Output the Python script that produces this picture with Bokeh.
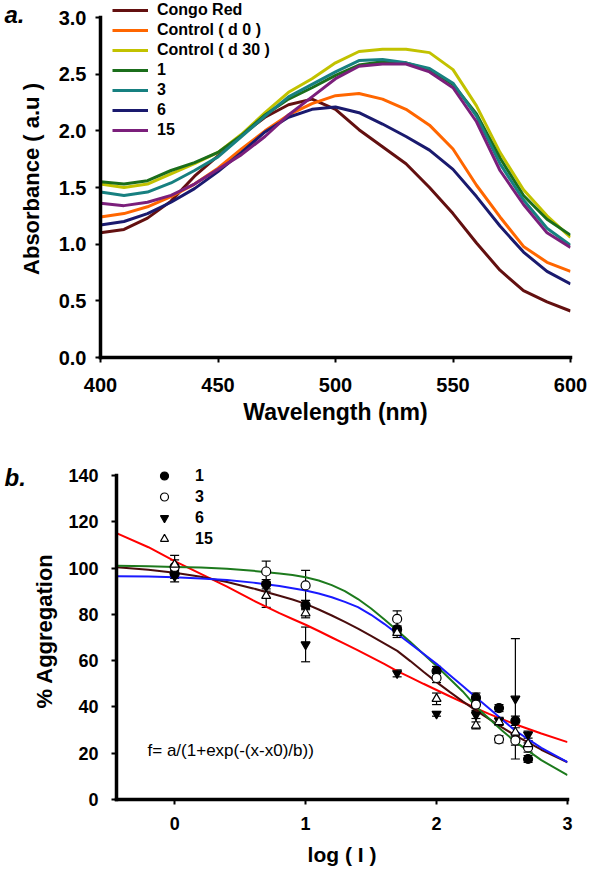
from bokeh.plotting import figure
from bokeh.models import (Range1d, Legend, LegendItem, Label, Whisker, TeeHead,
                          ColumnDataSource, FixedTicker, NumeralTickFormatter)
from bokeh.embed import file_html
from bokeh.resources import INLINE

# ---------------- Panel a: absorbance spectra ----------------
wavelength = [400, 410, 420, 430, 440, 450, 460, 470, 480, 490, 500,
              510, 520, 530, 540, 550, 560, 570, 580, 590, 600]
congo_red = [1.10, 1.13, 1.23, 1.38, 1.60, 1.78, 1.96, 2.12, 2.23, 2.28, 2.19,
             2.01, 1.86, 1.71, 1.50, 1.27, 1.01, 0.77, 0.59, 0.49, 0.41]
control_d0 = [1.24, 1.27, 1.33, 1.42, 1.53, 1.67, 1.84, 2.00, 2.14, 2.24, 2.31,
              2.33, 2.28, 2.19, 2.05, 1.84, 1.52, 1.24, 0.98, 0.84, 0.76]
control_d30 = [1.53, 1.50, 1.53, 1.62, 1.71, 1.81, 1.97, 2.16, 2.34, 2.46, 2.60,
               2.70, 2.72, 2.72, 2.69, 2.54, 2.22, 1.81, 1.48, 1.25, 1.06]
day_1 = [1.55, 1.53, 1.56, 1.65, 1.72, 1.81, 1.96, 2.14, 2.28, 2.38, 2.49,
         2.58, 2.61, 2.60, 2.54, 2.41, 2.15, 1.76, 1.43, 1.22, 1.08]
day_3 = [1.46, 1.43, 1.46, 1.54, 1.65, 1.77, 1.95, 2.13, 2.30, 2.41, 2.52,
         2.62, 2.63, 2.60, 2.55, 2.42, 2.13, 1.71, 1.39, 1.14, 0.99]
day_6 = [1.17, 1.20, 1.27, 1.37, 1.49, 1.64, 1.81, 1.99, 2.12, 2.19, 2.21,
         2.16, 2.06, 1.95, 1.83, 1.66, 1.42, 1.16, 0.93, 0.76, 0.65]
day_15 = [1.36, 1.34, 1.37, 1.43, 1.53, 1.66, 1.79, 1.95, 2.14, 2.30, 2.46,
          2.57, 2.59, 2.59, 2.52, 2.38, 2.08, 1.65, 1.35, 1.10, 0.97]
spectra_names = ["Congo Red", "Control ( d 0 )", "Control ( d 30 )", "1", "3", "6", "15"]
spectra_colors = ["#631010", "#ff6600", "#c2c200", "#1b6e1b", "#178080", "#1a1a6e", "#7b1f7b"]
wl_ticks = [400, 450, 500, 550, 600]
abs_ticks = [0.0, 0.5, 1.0, 1.5, 2.0, 2.5, 3.0]

# ---------------- Panel b: % aggregation ----------------
log_conc = [0, 0.699, 1, 1.699, 2, 2.301, 2.477, 2.602, 2.699]
agg_1 = [97.5, 93.0, 84.0, 73.5, 55.5, 44.0, 39.5, 34.0, 17.5]
err_1 = [2.0, 2.0, 2.0, 1.5, 2.0, 2.0, 1.5, 2.0, 1.5]
agg_3 = [100.5, 98.5, 92.5, 78.0, 52.5, 41.0, 26.0, 25.5, 22.5]
err_3 = [3.0, 4.5, 6.5, 3.5, 2.0, 2.5, 1.5, 2.0, 2.0]
agg_6 = [96.5, 92.0, 67.0, 54.5, 37.0, 36.5, 34.0, 43.5, 28.0]
err_6 = [2.5, 2.0, 7.5, 1.5, 1.0, 1.5, 1.5, 26.0, 1.5]
agg_15 = [101.5, 88.0, 80.5, 72.0, 43.5, 32.0, 33.5, 29.0, 24.0]
err_15 = [4.0, 5.0, 2.0, 2.0, 2.5, 1.5, 1.5, 2.0, 1.5]
agg_names = ["1", "3", "6", "15"]

fit_x = [-0.44, -0.2, 0.0, 0.2, 0.4, 0.6, 0.8, 0.9, 1.0, 1.1, 1.2, 1.3, 1.4,
         1.5, 1.6, 1.7, 1.8, 1.9, 2.0, 2.1, 2.2, 2.3, 2.4, 2.5, 2.6, 2.8, 3.0]
fit_red = [115.0, 109.0, 103.0, 97.5, 92.0, 86.0, 80.5, 78.0, 75.5, 72.8, 70.0, 67.2, 64.4,
           61.5, 58.6, 55.5, 52.8, 50.0, 47.3, 44.6, 42.0, 39.5, 37.0, 34.7, 32.5, 28.5, 24.8]
fit_brown = [100.3, 99.3, 98.0, 96.2, 94.0, 91.2, 88.0, 86.4, 84.5, 82.1, 79.5, 76.7, 73.8,
             70.7, 67.5, 64.2, 59.8, 55.2, 50.7, 46.5, 42.4, 38.5, 34.8, 31.2, 27.7, 21.5, 16.1]
fit_green = [101.0, 100.8, 100.5, 100.2, 99.7, 98.8, 97.6, 97.0, 96.0, 94.6, 92.6, 90.0, 86.6,
             82.5, 77.9, 73.0, 68.0, 62.9, 57.7, 52.2, 46.7, 40.2, 35.0, 29.8, 25.0, 17.0, 10.5]
fit_blue = [96.5, 96.3, 96.0, 95.5, 94.8, 93.7, 92.2, 91.3, 90.3, 89.0, 87.4, 85.4, 83.1,
            79.8, 75.9, 71.6, 67.3, 63.0, 58.6, 53.8, 49.0, 44.2, 39.4, 34.6, 29.8, 22.3, 16.1]
log_ticks = [0, 1, 2, 3]
agg_ticks = [0, 20, 40, 60, 80, 100, 120, 140]
formula_text = "f= a/(1+exp(-(x-x0)/b))"

FONT = "Liberation Sans"


def style_axis(ax, tick_size, label_size):
    ax.axis_line_width = 3.5
    ax.axis_line_color = "black"
    ax.axis_line_cap = "square"
    ax.major_tick_line_width = 2
    ax.major_tick_line_color = "black"
    ax.major_tick_out = 5
    ax.major_tick_in = 0
    ax.minor_tick_line_color = None
    ax.major_label_text_font = FONT
    ax.major_label_text_font_style = "bold"
    ax.major_label_text_font_size = tick_size
    ax.major_label_text_color = "black"
    ax.axis_label_text_font = FONT
    ax.axis_label_text_font_style = "bold"
    ax.axis_label_text_font_size = label_size
    ax.axis_label_text_color = "black"


def style_panel_title(t, text, offset, standoff):
    t.text = text
    t.align = "left"
    t.offset = offset
    t.standoff = standoff
    t.vertical_align = "bottom"
    t.text_font = FONT
    t.text_font_style = "bold italic"
    t.text_font_size = "24px"
    t.text_color = "black"


# ---- Panel a figure ----
pa = figure(width=590, height=432, output_backend="svg", toolbar_location=None,
            x_range=Range1d(400, 600), y_range=Range1d(0, 3.15),
            min_border_left=100, min_border_right=20, min_border_top=0,
            min_border_bottom=75)
pa.outline_line_color = None
pa.grid.visible = False
pa.background_fill_color = "white"
pa.border_fill_color = "white"
style_panel_title(pa.title, "a.", -96, -54)

items_a = []
for name, ys, col in zip(spectra_names,
                         [congo_red, control_d0, control_d30, day_1, day_3, day_6, day_15],
                         spectra_colors):
    r = pa.line(wavelength, ys, line_color=col, line_width=3)
    items_a.append(LegendItem(label=name, renderers=[r]))

leg_a = Legend(items=items_a, location=(12, 217), orientation="vertical")
leg_a.background_fill_alpha = 0
leg_a.border_line_color = None
leg_a.padding = 0
leg_a.margin = 0
leg_a.spacing = 0
leg_a.glyph_width = 36
leg_a.glyph_height = 20
leg_a.label_height = 20
leg_a.label_standoff = 9
leg_a.label_text_font = FONT
leg_a.label_text_font_style = "bold"
leg_a.label_text_font_size = "16px"
leg_a.label_text_color = "black"
pa.add_layout(leg_a)

style_axis(pa.xaxis[0], "20px", "23px")
style_axis(pa.yaxis[0], "20px", "22px")
pa.xaxis.ticker = FixedTicker(ticks=wl_ticks)
pa.yaxis.ticker = FixedTicker(ticks=abs_ticks)
pa.yaxis.formatter = NumeralTickFormatter(format="0.0")
pa.yaxis.bounds = (0, 3.0)
pa.xaxis.major_label_standoff = 15
pa.yaxis.major_label_standoff = 9
pa.xaxis.axis_label = "Wavelength (nm)"
pa.yaxis.axis_label = "Absorbance ( a.u )"
pa.xaxis.axis_label_standoff = 4
pa.yaxis.axis_label_standoff = 12

# ---- Panel b figure ----
pb = figure(width=590, height=438, output_backend="svg", toolbar_location=None,
            x_range=Range1d(-0.444, 3.0), y_range=Range1d(0, 145.6),
            min_border_left=116, min_border_right=23, min_border_top=30,
            min_border_bottom=71)
pb.outline_line_color = None
pb.grid.visible = False
pb.background_fill_color = "white"
pb.border_fill_color = "white"
style_panel_title(pb.title, "b.", -112, -56)

pb.line(fit_x, fit_red, line_color="#ff0000", line_width=2)
pb.line(fit_x, fit_brown, line_color="#4a0d0d", line_width=2)
pb.line(fit_x, fit_green, line_color="#1d7a1d", line_width=2)
pb.line(fit_x, fit_blue, line_color="#1a1aff", line_width=2)

series_b = [
    (agg_1, err_1, "circle", "black"),
    (agg_3, err_3, "circle", "white"),
    (agg_6, err_6, "inverted_triangle", "black"),
    (agg_15, err_15, "triangle", "white"),
]
items_b = []
for name, (ys, es, marker, fill) in zip(agg_names, series_b):
    src = ColumnDataSource(dict(x=log_conc, y=ys,
                                upper=[v + e for v, e in zip(ys, es)],
                                lower=[v - e for v, e in zip(ys, es)]))
    pb.add_layout(Whisker(source=src, base="x", upper="upper", lower="lower",
                          line_color="black", line_width=1.2,
                          upper_head=TeeHead(size=9, line_color="black", line_width=1.2),
                          lower_head=TeeHead(size=9, line_color="black", line_width=1.2)))
    r = pb.scatter("x", "y", source=src, marker=marker, size=9,
                   fill_color=fill, line_color="black", line_width=1.2)
    items_b.append(LegendItem(label=name, renderers=[r]))

leg_b = Legend(items=items_b, location=(38, 250), orientation="vertical")
leg_b.background_fill_alpha = 0
leg_b.border_line_color = None
leg_b.padding = 0
leg_b.margin = 0
leg_b.spacing = 0
leg_b.glyph_width = 20
leg_b.glyph_height = 21
leg_b.label_height = 21
leg_b.label_standoff = 21
leg_b.label_text_font = FONT
leg_b.label_text_font_style = "bold"
leg_b.label_text_font_size = "16px"
leg_b.label_text_color = "black"
pb.add_layout(leg_b)

style_axis(pb.xaxis[0], "18px", "21px")
style_axis(pb.yaxis[0], "18px", "22px")
pb.xaxis.ticker = FixedTicker(ticks=log_ticks)
pb.yaxis.ticker = FixedTicker(ticks=agg_ticks)
pb.yaxis.bounds = (0, 140)
pb.xaxis.major_label_standoff = 12
pb.yaxis.major_label_standoff = 13
pb.xaxis.axis_label = "log ( I )"
pb.yaxis.axis_label = "% Aggregation"
pb.xaxis.axis_label_standoff = 10
pb.yaxis.axis_label_standoff = 8

pb.add_layout(Label(x=-0.207, y=21.2, text=formula_text, text_font=FONT,
                    text_font_size="17px", text_baseline="middle", text_color="black"))

open("out.html", "w").write(file_html([pa, pb], INLINE))
